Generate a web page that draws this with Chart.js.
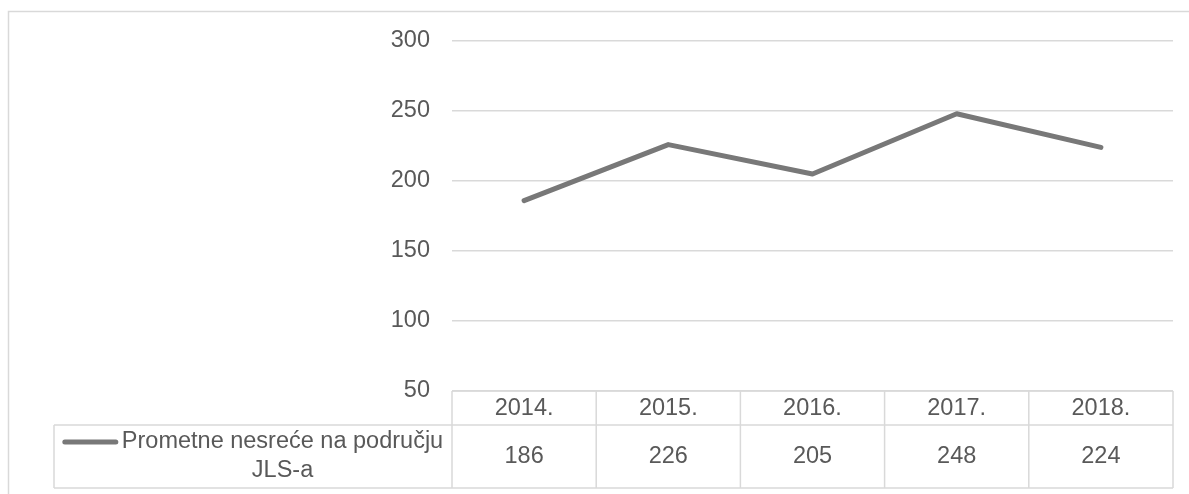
<!DOCTYPE html>
<html>
<head>
<meta charset="utf-8">
<script src="https://cdn.jsdelivr.net/npm/chart.js@4"></script>
<style>
  html, body { margin: 0; padding: 0; background: #fff; }
  canvas { display: block; }
</style>
</head>
<body>
<canvas id="lineChart" width="1189" height="494"></canvas>
<script>
const years = ['2014.', '2015.', '2016.', '2017.', '2018.'];
const accidents = [186, 226, 205, 248, 224];
const seriesName = 'Prometne nesreće na području JLS-a';
const seriesLines = ['Prometne nesreće na području', 'JLS-a'];

const FONT = '23.5px "Liberation Sans", Arial, sans-serif';
const TEXT = '#595959';
const GRID = '#d9d9d9';
const LINE = '#787878';

// data table under the plot, plus the outer frame
const dataTable = {
    id: 'dataTable',
    afterDraw(chart) {
        const ctx = chart.ctx;
        const area = chart.chartArea;
        const x = chart.scales.x;
        const half = (x.getPixelForValue(1) - x.getPixelForValue(0)) / 2;
        const top = area.bottom;
        const mid = top + 34;
        const bottom = mid + 63;
        const legendLeft = 54;

        ctx.save();
        ctx.strokeStyle = GRID;
        ctx.lineWidth = 1.5;
        // outer frame
        ctx.strokeRect(8.5, 11.5, 1300, 600);

        // header row
        ctx.beginPath();
        ctx.moveTo(area.left, top); ctx.lineTo(area.right, top);
        ctx.moveTo(legendLeft, mid); ctx.lineTo(area.right, mid);
        ctx.moveTo(legendLeft, bottom); ctx.lineTo(area.right, bottom);
        ctx.moveTo(legendLeft, mid); ctx.lineTo(legendLeft, bottom);
        ctx.moveTo(area.left, top); ctx.lineTo(area.left, bottom);
        years.forEach((y, i) => {
            const edge = x.getPixelForValue(i) + half;
            ctx.moveTo(edge, top); ctx.lineTo(edge, bottom);
        });
        ctx.stroke();

        ctx.font = FONT;
        ctx.fillStyle = TEXT;
        ctx.textAlign = 'center';
        ctx.textBaseline = 'middle';
        years.forEach((y, i) => {
            const cx = x.getPixelForValue(i);
            ctx.fillText(y, cx, top + 18);
            ctx.fillText(String(accidents[i]), cx, mid + 32);
        });

        // legend key in the first cell
        const sample = 55, gap = 4;
        const textW = ctx.measureText(seriesLines[0]).width;
        const groupW = sample + gap + textW;
        const gx = (legendLeft + area.left) / 2 - groupW / 2;
        const ly = mid + 17;
        ctx.strokeStyle = LINE;
        ctx.lineWidth = 5;
        ctx.lineCap = 'round';
        ctx.beginPath();
        ctx.moveTo(gx + 2, ly); ctx.lineTo(gx + sample - 2, ly);
        ctx.stroke();
        const tx = gx + sample + gap;
        ctx.textAlign = 'left';
        ctx.fillText(seriesLines[0], tx, ly);
        ctx.textAlign = 'center';
        ctx.fillText(seriesLines[1], tx + textW / 2, ly + 28.5);
        ctx.restore();
    }
};

new Chart(document.getElementById('lineChart'), {
    type: 'line',
    data: {
        labels: years,
        datasets: [
            {
                label: seriesName,
                data: accidents,
                borderColor: LINE,
                borderWidth: 5,
                borderCapStyle: 'round',
                borderJoinStyle: 'round',
                pointRadius: 0,
                tension: 0,
                fill: false
            }
        ]
    },
    options: {
        responsive: false,
        animation: false,
        layout: {
            padding: { left: 0, top: 41, right: 16, bottom: 103 }
        },
        plugins: {
            legend: { display: false },
            tooltip: { enabled: false }
        },
        scales: {
            x: {
                display: false,
                offset: true
            },
            y: {
                min: 50,
                max: 300,
                afterFit: function (scale) {
                    scale.width = 452;
                },
                border: { display: false },
                grid: {
                    color: GRID,
                    lineWidth: 1.5,
                    drawTicks: false
                },
                ticks: {
                    stepSize: 50,
                    padding: 22,
                    color: TEXT,
                    font: { family: '"Liberation Sans", Arial, sans-serif', size: 23.5 }
                }
            }
        }
    },
    plugins: [dataTable]
});
</script>
</body>
</html>
